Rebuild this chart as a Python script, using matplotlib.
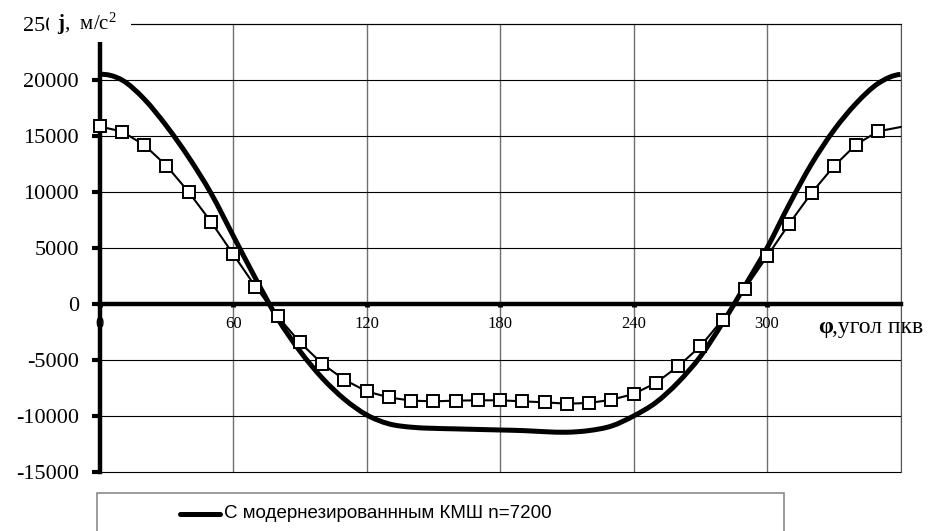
import matplotlib
matplotlib.use("Agg")
import matplotlib.pyplot as plt
from matplotlib.path import Path
from matplotlib.patches import PathPatch, Rectangle
from matplotlib.lines import Line2D
import numpy as np

# crank angle, degrees
angles = [0, 10, 20, 30, 40, 50, 60, 70, 80, 90, 100, 110, 120, 130, 140, 150,
          160, 170, 180, 190, 200, 210, 220, 230, 240, 250, 260, 270, 280, 290,
          300, 310, 320, 330, 340, 350, 360]

# piston acceleration with the modernised crank mechanism, m/s^2
accel_modern = [20500, 20000, 18300, 15900, 13100, 9900, 6100, 2300, -1300,
                -4200, -6600, -8500, -9900, -10700, -11000, -11100, -11150,
                -11200, -11250, -11300, -11400, -11450, -11300, -10900, -10000,
                -8800, -7000, -4700, -1700, 1600, 5000, 8900, 12500, 15500,
                17900, 19700, 20500]

# piston acceleration of the base mechanism, m/s^2
accel_base = [15850, 15400, 14200, 12350, 10000, 7350, 4450, 1550, -1100,
              -3430, -5330, -6760, -7800, -8340, -8630, -8690, -8630, -8600,
              -8600, -8690, -8780, -8900, -8840, -8550, -8040, -7050, -5570,
              -3780, -1400, 1340, 4250, 7170, 9910, 12290, 14230, 15420, 15800]

x_ticks = [0, 60, 120, 180, 240, 300]
x_grid = [60, 120, 180, 240, 300, 360]
y_ticks = [-15000, -10000, -5000, 0, 5000, 10000, 15000, 20000, 25000]
y_tick_labels = ["-15000", "-10000", "-5000", "0", "5000", "10000", "15000",
                 "20000", "25000"]
legend_label = "С модернезированнным КМШ n=7200"
x_symbol = "φ"
x_text = ",угол пкв"
y_title = r"$\mathbf{j}$,  м/с$^{2}$"

plt.rcParams["font.family"] = ["Liberation Serif", "DejaVu Serif"]
plt.rcParams["mathtext.fontset"] = "custom"
plt.rcParams["mathtext.rm"] = "Liberation Serif"
plt.rcParams["mathtext.bf"] = "Liberation Serif:bold"
plt.rcParams["mathtext.it"] = "Liberation Serif:italic"

W, H = 929, 531
fig = plt.figure(figsize=(W / 100, H / 100), dpi=100, facecolor="white")

# plot area in pixels
L, R, T, B = 99.7, 900.5, 24.0, 472.0
ax = fig.add_axes([L / W, 1 - B / H, (R - L) / W, (B - T) / H])
ax.set_xlim(0, 360)
ax.set_ylim(-15000, 25000)


def px(x, y):
    """Pixel position (from top-left) to figure fraction."""
    return x / W, 1 - y / H


def smooth_path(xs, ys, period=360):
    """Bezier path through the points, periodic ends (Catmull-Rom style)."""
    pts = np.column_stack([xs, ys]).astype(float)
    n = len(pts)
    prev_pt = np.array([pts[-2, 0] - period, pts[-2, 1]])
    next_pt = np.array([pts[1, 0] + period, pts[1, 1]])
    verts = [pts[0]]
    codes = [Path.MOVETO]
    for i in range(n - 1):
        p0 = pts[i - 1] if i > 0 else prev_pt
        p1 = pts[i]
        p2 = pts[i + 1]
        p3 = pts[i + 2] if i + 2 < n else next_pt
        c1 = p1 + (p2 - p0) / 6.0
        c2 = p2 - (p3 - p1) / 6.0
        verts += [c1, c2, p2]
        codes += [Path.CURVE4] * 3
    return Path(verts, codes)


# grid
for gx in x_grid:
    ax.axvline(gx, color="#6f6f6f", lw=1.0, zorder=1)
for gy in y_ticks:
    ax.axhline(gy, color="black", lw=0.8, zorder=1, clip_on=False)

# curves
thick = PathPatch(smooth_path(angles, accel_modern), fill=False,
                  edgecolor="black", lw=3.6, capstyle="butt",
                  joinstyle="round", zorder=3, transform=ax.transData)
ax.add_patch(thick)

ax.plot(angles, accel_base, "-", color="black", lw=1.5, marker="s", ms=9.2,
        mfc="white", mec="black", mew=1.4,
        markevery=list(range(len(angles) - 1)), clip_on=False, zorder=4)

# spines
for s in ["top", "right"]:
    ax.spines[s].set_linewidth(0.8)
    ax.spines[s].set_color("black")
ax.spines["right"].set_color("#555555")
ax.spines["left"].set_linewidth(3.2)
ax.spines["bottom"].set_position(("data", 0))
ax.spines["bottom"].set_linewidth(3.2)

ax.set_xticks(x_ticks)
ax.set_xticklabels([str(t) for t in x_ticks])
ax.tick_params(axis="x", direction="out", length=2.5, width=3.5, pad=6.5,
               labelsize=12, color="black")
ax.set_yticks(y_ticks)
ax.set_yticklabels(y_tick_labels)
ax.tick_params(axis="y", direction="out", length=5.5, width=3.0, pad=9.5,
               labelsize=16, color="black")

# axis titles
fig.add_artist(Rectangle(px(49, 42), 82 / W, 40 / H, transform=fig.transFigure,
                         facecolor="white", edgecolor="none", zorder=5))
fig.text(*px(57, 30), y_title, fontsize=15, ha="left", va="baseline", zorder=6)

fig.text(*px(818, 333), x_symbol, fontsize=17, fontweight="bold",
         ha="left", va="baseline", zorder=6)
fig.text(*px(832, 333), x_text, fontsize=17, ha="left", va="baseline",
         zorder=6)

# legend
fig.add_artist(Rectangle(px(97, 560), (784 - 97) / W, (560 - 492.5) / H,
                         transform=fig.transFigure, facecolor="white",
                         edgecolor="#808080", lw=1.1, zorder=5))
hx0, hy = px(180, 514)
hx1, _ = px(220, 514)
fig.add_artist(Line2D([hx0, hx1], [hy, hy], transform=fig.transFigure,
                      color="black", lw=3.6, solid_capstyle="round", zorder=6))
fig.text(*px(224, 518), legend_label, fontsize=13.5,
         family=["Liberation Sans", "DejaVu Sans"], ha="left",
         va="baseline", zorder=6)

fig.savefig("out.png", dpi=100, facecolor="white")
